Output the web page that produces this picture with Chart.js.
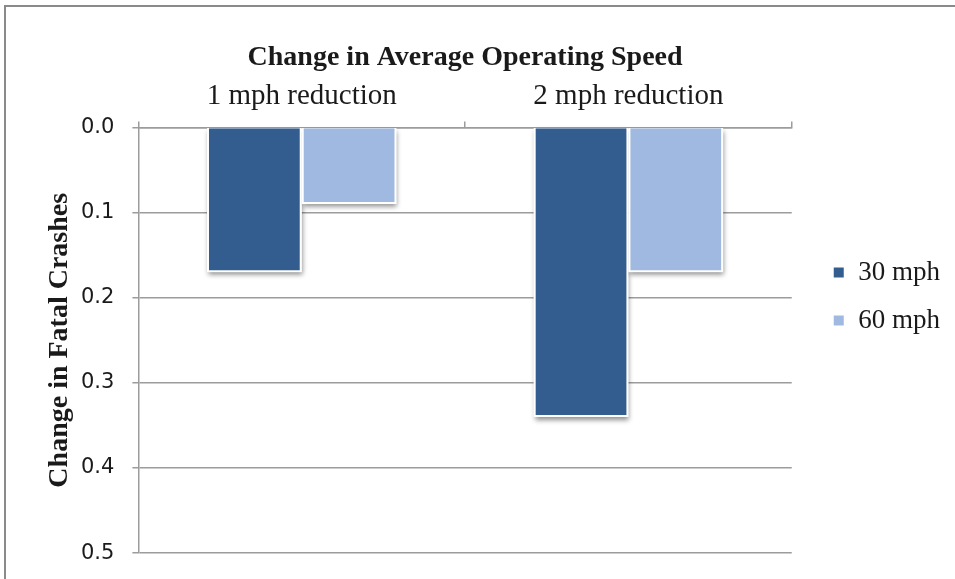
<!DOCTYPE html>
<html>
<head>
<meta charset="utf-8">
<script src="https://cdn.jsdelivr.net/npm/chart.js@4.4.1/dist/chart.umd.min.js"></script>
<style>
  html, body { margin: 0; padding: 0; background: #ffffff; }
  #wrap { width: 955px; height: 579px; position: relative; }
  canvas { display: block; }
</style>
</head>
<body>
<div id="wrap"><canvas id="chart" width="955" height="579"></canvas></div>
<script>
// Reduction in fatal crashes by speed reduction, for two base speeds
const categories = ['1 mph reduction', '2 mph reduction'];
const seriesNames = ['30 mph', '60 mph'];
const crashes30 = [0.17, 0.34];
const crashes60 = [0.09, 0.17];
const yMin = 0.0;
const yMax = 0.5;
const yStep = 0.1;

const xTitle = 'Change in Average Operating Speed';
const yTitle = 'Change in Fatal Crashes';

const darkBlue = '#335d8e';
const lightBlue = '#a0b9e0';
const gridGrey = '#9c9c9c';
const textColor = '#1a1a1a';
const serif = 'Liberation Serif';

// Soft drop shadow under each bar, painted before the bars themselves
const barShadow = {
  id: 'barShadow',
  beforeDatasetsDraw(chart) {
    const ctx = chart.ctx;
    ctx.save();
    ctx.shadowColor = 'rgba(0,0,0,0.45)';
    ctx.shadowBlur = 5;
    ctx.shadowOffsetX = 1;
    ctx.shadowOffsetY = 3;
    ctx.fillStyle = '#ffffff';
    chart.data.datasets.forEach((ds, i) => {
      chart.getDatasetMeta(i).data.forEach(bar => {
        const p = bar.getProps(['x', 'y', 'base', 'width'], true);
        const top = Math.min(p.y, p.base);
        const h = Math.abs(p.y - p.base);
        ctx.fillRect(p.x - p.width / 2, top, p.width, h);
      });
    });
    ctx.restore();
  }
};

// Thin grey frame around the chart
const frame = {
  id: 'frame',
  beforeDraw(chart) {
    const ctx = chart.ctx;
    ctx.save();
    ctx.strokeStyle = '#8a8a8a';
    ctx.lineWidth = 2;
    ctx.beginPath();
    ctx.moveTo(5, 700);
    ctx.lineTo(5, 6);
    ctx.lineTo(960, 6);
    ctx.stroke();
    ctx.restore();
  }
};

// Leave a wider gap between the plot and the legend
const legendGap = {
  id: 'legendGap',
  afterLayout(chart) {
    const lg = chart.legend;
    if (lg) {
      lg.left += 20;
      lg.right += 20;
    }
  }
};

new Chart(document.getElementById('chart'), {
  type: 'bar',
  data: {
    labels: categories,
    datasets: [
      {
        label: seriesNames[0],
        data: crashes30,
        backgroundColor: darkBlue,
        borderColor: '#ffffff',
        borderWidth: 2
      },
      {
        label: seriesNames[1],
        data: crashes60,
        backgroundColor: lightBlue,
        borderColor: '#ffffff',
        borderWidth: 2
      }
    ]
  },
  options: {
    responsive: false,
    animation: false,
    devicePixelRatio: 1,
    layout: { padding: { left: 46, top: 41, right: 25, bottom: 9 } },
    datasets: {
      bar: { categoryPercentage: 0.58, barPercentage: 1.0 }
    },
    plugins: {
      title: { display: false },
      tooltip: { enabled: false },
      legend: {
        position: 'right',
        align: 'start',
        title: {
          display: true,
          text: ' ',
          padding: { top: 185, bottom: 0 },
          font: { family: serif, size: 10 }
        },
        labels: {
          boxWidth: 12,
          boxHeight: 12,
          padding: 21,
          color: textColor,
          font: { family: serif, size: 27 }
        }
      }
    },
    scales: {
      x: {
        position: 'top',
        offset: true,
        grid: {
          display: true,
          offset: true,
          drawOnChartArea: false,
          drawTicks: true,
          tickLength: 6,
          color: gridGrey,
          lineWidth: 1.5
        },
        border: { display: true, color: gridGrey, width: 1.5 },
        ticks: {
          color: textColor,
          padding: 8,
          font: { family: serif, size: 29 }
        },
        title: {
          display: true,
          text: xTitle,
          color: textColor,
          padding: { top: 0, bottom: -4 },
          font: { family: serif, size: 28, weight: 'bold' }
        }
      },
      y: {
        reverse: true,
        min: yMin,
        max: yMax,
        ticks: {
          stepSize: yStep,
          color: textColor,
          padding: 18,
          font: { family: 'DejaVu Sans', size: 21, lineHeight: 0.75 },
          callback: v => Number(v).toFixed(1)
        },
        grid: {
          color: gridGrey,
          lineWidth: 1.5,
          tickLength: 6,
          drawTicks: true
        },
        border: { display: true, color: gridGrey, width: 1.5 },
        title: {
          display: true,
          text: yTitle,
          color: textColor,
          padding: { top: 0, bottom: -11 },
          font: { family: serif, size: 28, weight: 'bold', lineHeight: 1.0 }
        }
      }
    }
  },
  plugins: [frame, barShadow, legendGap]
});
</script>
</body>
</html>
